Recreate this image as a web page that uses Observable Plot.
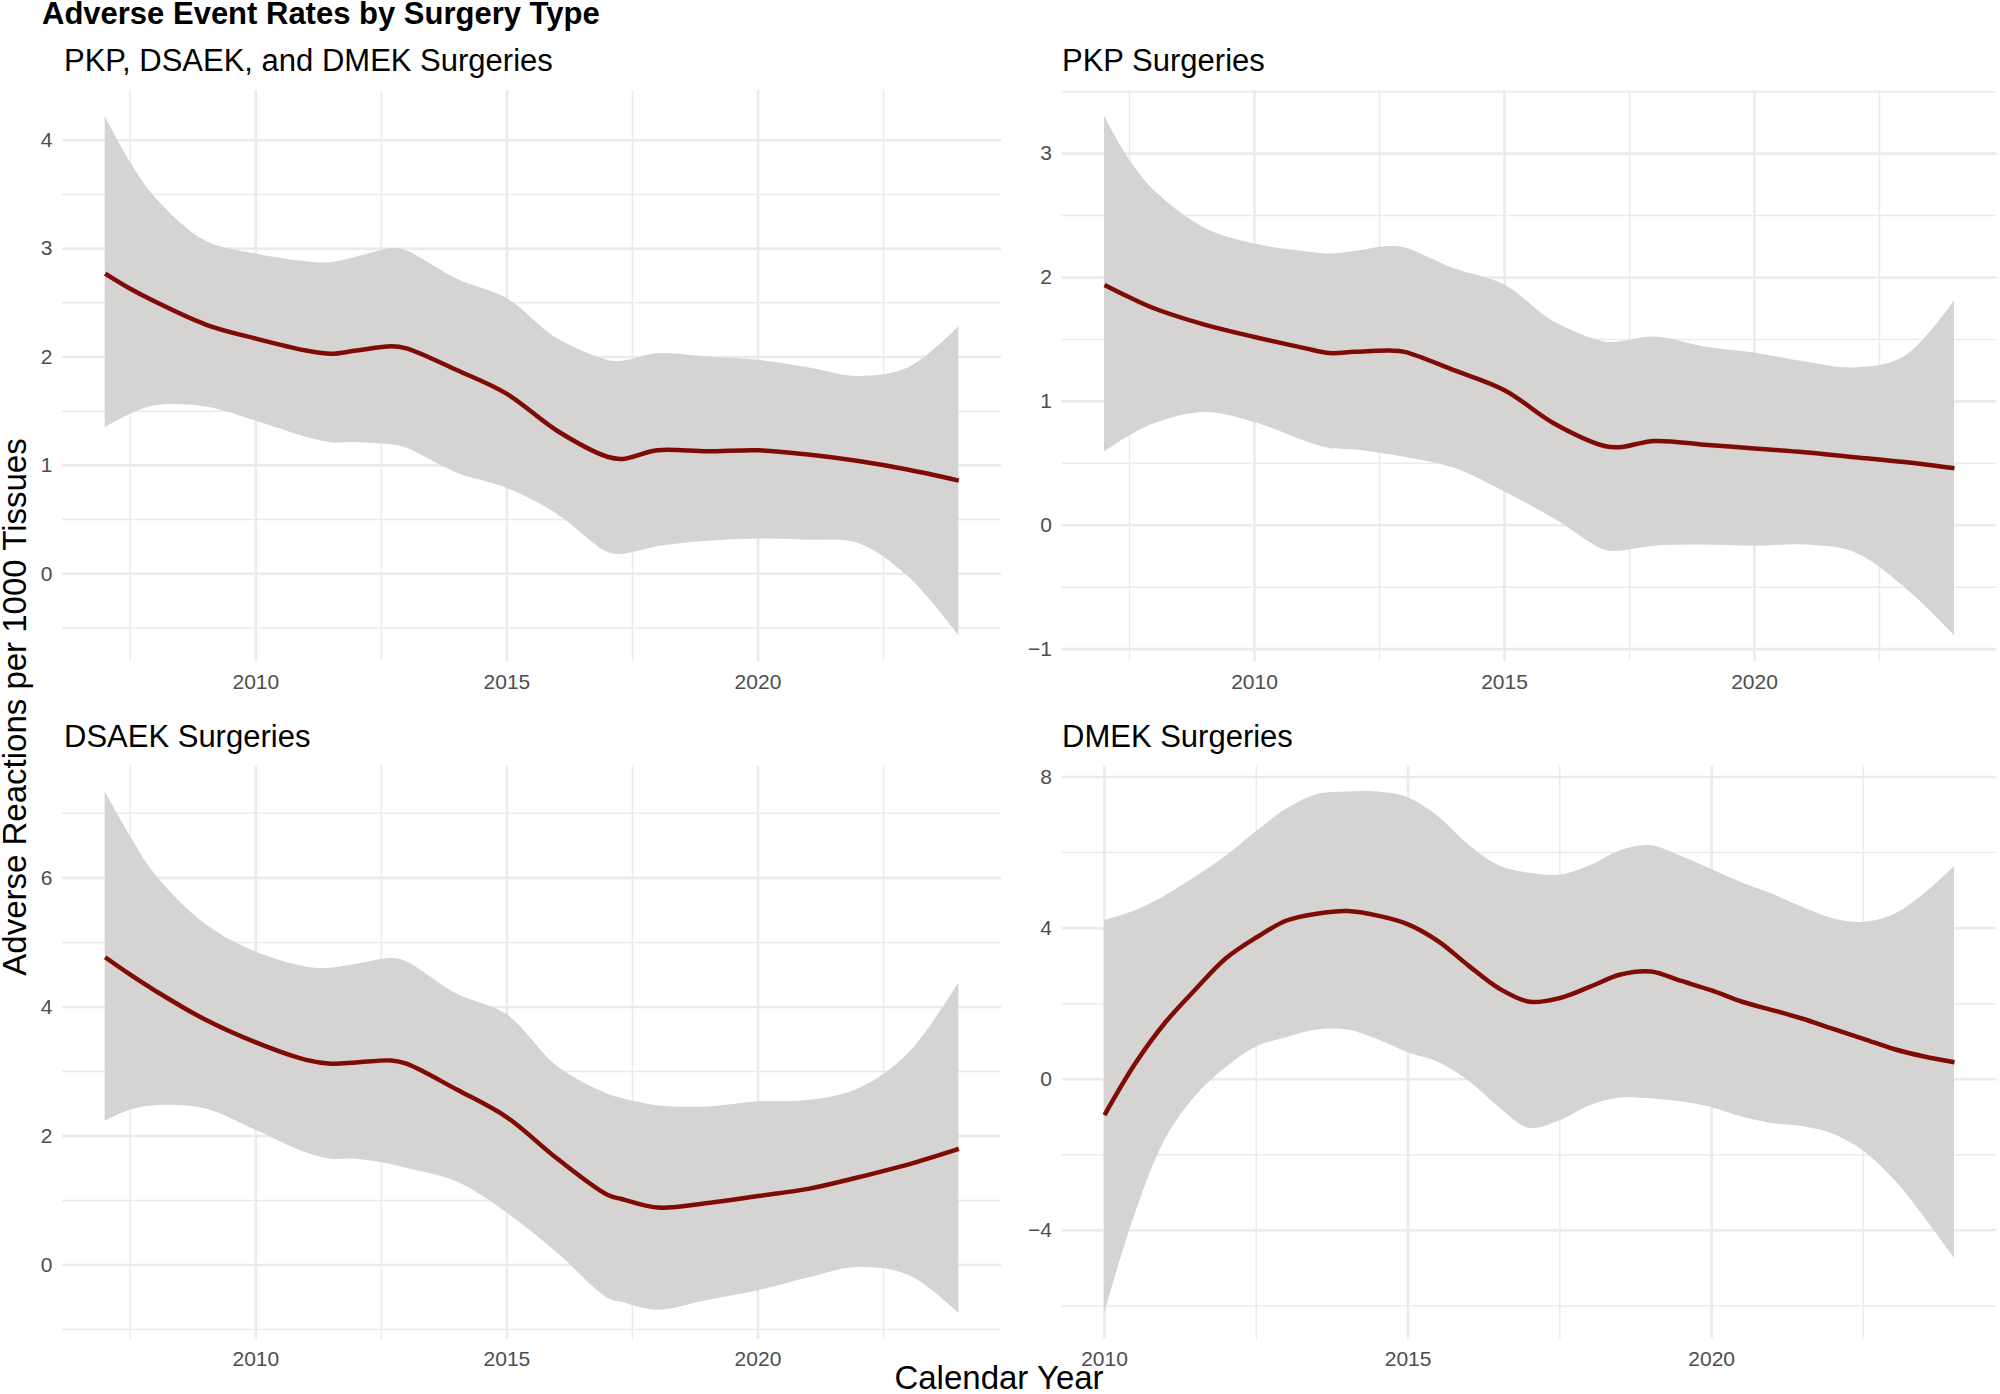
<!DOCTYPE html>
<html>
<head>
<meta charset="utf-8">
<script src="https://cdn.jsdelivr.net/npm/d3@7"></script>
<script src="https://cdn.jsdelivr.net/npm/@observablehq/plot@0.6"></script>
<style>
  body { margin: 0; background: #fff; }
  #page { position: relative; width: 2000px; height: 1394px; overflow: hidden; background: #fff;
          font-family: "Liberation Sans", Arial, sans-serif; }
  .panel { position: absolute; }
  #overlay { position: absolute; left: 0; top: 0; pointer-events: none; }
</style>
</head>
<body>
<div id="page"></div>
<script>
// ---------- Text ----------
const mainTitle = "Adverse Event Rates by Surgery Type";
const panelTitles = ["PKP, DSAEK, and DMEK Surgeries", "PKP Surgeries", "DSAEK Surgeries", "DMEK Surgeries"];
const xAxisTitle = "Calendar Year";
const yAxisTitle = "Adverse Reactions per 1000 Tissues";

// ---------- Tick values ----------
const xMajor = [2010, 2015, 2020];
const xMinor = [2007.5, 2012.5, 2017.5, 2022.5];
const yMajorAll = [0, 1, 2, 3, 4];
const yMinorAll = [-0.5, 0.5, 1.5, 2.5, 3.5];
const yMajorPKP = [-1, 0, 1, 2, 3];
const yMinorPKP = [-0.5, 0.5, 1.5, 2.5, 3.5];
const yMajorDSAEK = [0, 2, 4, 6];
const yMinorDSAEK = [-1, 1, 3, 5, 7];
const yMajorDMEK = [-4, 0, 4, 8];
const yMinorDMEK = [-6, -2, 2, 6];

// ---------- Data ----------
const yearsA = [2007, 2007.5, 2008, 2009, 2010, 2011, 2011.5, 2012, 2012.7, 2013, 2014, 2015, 2016, 2017, 2017.3, 2018, 2019, 2020, 2021, 2022, 2023, 2024];

const allFit = [2.77, 2.63, 2.51, 2.30, 2.17, 2.06, 2.03, 2.06, 2.10, 2.08, 1.88, 1.66, 1.32, 1.08, 1.06, 1.14, 1.13, 1.14, 1.10, 1.04, 0.96, 0.86];
const allHi  = [4.22, 3.80, 3.47, 3.07, 2.95, 2.88, 2.87, 2.92, 3.00, 2.98, 2.72, 2.54, 2.17, 1.97, 1.96, 2.03, 2.00, 1.97, 1.90, 1.82, 1.90, 2.28];
const allLo  = [1.35, 1.47, 1.55, 1.54, 1.41, 1.26, 1.21, 1.21, 1.19, 1.16, 0.93, 0.79, 0.55, 0.20, 0.18, 0.25, 0.30, 0.32, 0.31, 0.28, -0.03, -0.57];

const pkpFit = [1.94, 1.84, 1.75, 1.62, 1.52, 1.43, 1.39, 1.40, 1.41, 1.40, 1.25, 1.09, 0.82, 0.64, 0.63, 0.68, 0.65, 0.62, 0.59, 0.55, 0.51, 0.46];
const pkpHi  = [3.30, 2.95, 2.70, 2.40, 2.27, 2.21, 2.19, 2.21, 2.25, 2.24, 2.07, 1.94, 1.64, 1.48, 1.48, 1.52, 1.44, 1.39, 1.32, 1.27, 1.36, 1.81];
const pkpLo  = [0.59, 0.72, 0.82, 0.91, 0.83, 0.68, 0.62, 0.61, 0.57, 0.55, 0.46, 0.27, 0.05, -0.20, -0.21, -0.17, -0.16, -0.17, -0.16, -0.22, -0.50, -0.89];

const dsaekFit = [4.77, 4.50, 4.25, 3.80, 3.45, 3.18, 3.12, 3.14, 3.17, 3.12, 2.72, 2.29, 1.65, 1.09, 1.02, 0.89, 0.96, 1.07, 1.18, 1.36, 1.56, 1.80];
const dsaekHi  = [7.33, 6.65, 6.05, 5.28, 4.85, 4.62, 4.60, 4.66, 4.75, 4.70, 4.20, 3.88, 3.08, 2.65, 2.58, 2.47, 2.45, 2.53, 2.55, 2.73, 3.28, 4.37];
const dsaekLo  = [2.23, 2.40, 2.47, 2.42, 2.09, 1.74, 1.64, 1.64, 1.56, 1.50, 1.29, 0.81, 0.19, -0.51, -0.58, -0.70, -0.55, -0.40, -0.20, -0.04, -0.16, -0.75];

const yearsD = [2010, 2010.5, 2011, 2011.5, 2012, 2012.5, 2013, 2013.5, 2014, 2014.5, 2015, 2015.5, 2016, 2016.5, 2017, 2017.5,
                2018, 2018.5, 2019, 2019.5, 2020, 2020.5, 2021, 2021.5, 2022, 2022.5, 2023, 2023.5, 2024];
const dmekFit = [-0.95, 0.40, 1.50, 2.38, 3.20, 3.75, 4.20, 4.38, 4.45, 4.33, 4.10, 3.65, 3.00, 2.40, 2.05, 2.15,
                 2.45, 2.77, 2.85, 2.60, 2.35, 2.05, 1.83, 1.60, 1.33, 1.07, 0.80, 0.60, 0.45];
const dmekHi  = [4.20, 4.45, 4.85, 5.35, 5.90, 6.55, 7.15, 7.53, 7.60, 7.60, 7.45, 6.95, 6.20, 5.65, 5.45, 5.40,
                 5.65, 6.05, 6.18, 5.90, 5.55, 5.20, 4.90, 4.55, 4.25, 4.15, 4.35, 4.90, 5.62];
const dmekLo  = [-6.20, -3.60, -1.60, -0.45, 0.30, 0.85, 1.10, 1.30, 1.30, 1.05, 0.70, 0.45, -0.05, -0.75, -1.30, -1.10,
                 -0.70, -0.50, -0.52, -0.60, -0.75, -1.00, -1.17, -1.25, -1.45, -1.90, -2.65, -3.65, -4.75];

// ---------- Style ----------
const FONT = '"Liberation Sans", Arial, sans-serif';
const bandFill = "#d6d3d3";
const lineColor = "#7f0c04";
const gridColor = "#ebebeb";
const tickColor = "#4d4d4d";

function expand(lo, hi) { const r = hi - lo; return [lo - 0.05 * r, hi + 0.05 * r]; }
const fmtY = d => (d < 0 ? "\u2212" + Math.abs(d) : String(d));

function makePanel(cfg) {
  const rows = cfg.x.map((x, i) => ({ x, fit: cfg.fit[i], lo: cfg.lo[i], hi: cfg.hi[i] }));
  const xDomain = expand(d3.min(cfg.x), d3.max(cfg.x));
  const yDomain = expand(d3.min(cfg.lo), d3.max(cfg.hi));
  const xMin = xMinor.filter(v => v > xDomain[0] && v < xDomain[1]);
  const yMin = cfg.yMinor.filter(v => v > yDomain[0] && v < yDomain[1]);
  const chart = Plot.plot({
    width: cfg.width, height: cfg.height,
    marginLeft: cfg.ml, marginRight: cfg.mr, marginTop: cfg.mt, marginBottom: cfg.mb,
    style: { fontFamily: FONT, fontSize: "21px", background: "transparent", overflow: "visible" },
    x: { domain: xDomain, axis: null, label: null },
    y: { domain: yDomain, axis: null, label: null },
    marks: [
      Plot.gridY({ ticks: yMin, stroke: gridColor, strokeOpacity: 1, strokeWidth: 1.5 }),
      Plot.gridX({ ticks: xMin, stroke: gridColor, strokeOpacity: 1, strokeWidth: 1.5 }),
      Plot.gridY({ ticks: cfg.yMajor, stroke: gridColor, strokeOpacity: 1, strokeWidth: 2.6 }),
      Plot.gridX({ ticks: xMajor, stroke: gridColor, strokeOpacity: 1, strokeWidth: 2.6 }),
      Plot.areaY(rows, { x: "x", y1: "lo", y2: "hi", fill: bandFill, curve: "catmull-rom" }),
      Plot.lineY(rows, { x: "x", y: "fit", stroke: lineColor, strokeWidth: 4.5, strokeLinecap: "butt", curve: "catmull-rom" }),
      Plot.axisX({ ticks: xMajor, tickSize: 0, tickPadding: cfg.xpad, tickFormat: d => String(d), fill: tickColor, fontSize: 21, label: null }),
      Plot.axisY({ ticks: cfg.yMajor, tickSize: 0, tickPadding: 10, tickFormat: fmtY, fill: tickColor, fontSize: 21, label: null })
    ]
  });
  chart.classList.add("panel");
  chart.style.left = cfg.left + "px";
  chart.style.top = cfg.top + "px";
  return chart;
}

const page = document.getElementById("page");

page.appendChild(makePanel({ x: yearsA, fit: allFit, lo: allLo, hi: allHi, yMajor: yMajorAll, yMinor: yMinorAll,
  left: 0, top: 80, width: 1001, height: 620, ml: 62, mr: 0, mt: 10, mb: 39, xpad: 13 }));
page.appendChild(makePanel({ x: yearsA, fit: pkpFit, lo: pkpLo, hi: pkpHi, yMajor: yMajorPKP, yMinor: yMinorPKP,
  left: 1000, top: 80, width: 1000, height: 620, ml: 61.5, mr: 3.5, mt: 10, mb: 39, xpad: 13 }));
page.appendChild(makePanel({ x: yearsA, fit: dsaekFit, lo: dsaekLo, hi: dsaekHi, yMajor: yMajorDSAEK, yMinor: yMinorDSAEK,
  left: 0, top: 755, width: 1001, height: 639, ml: 62, mr: 0, mt: 10.5, mb: 55, xpad: 12 }));
page.appendChild(makePanel({ x: yearsD, fit: dmekFit, lo: dmekLo, hi: dmekHi, yMajor: yMajorDMEK, yMinor: yMinorDMEK,
  left: 1000, top: 755, width: 1000, height: 639, ml: 61.5, mr: 3.5, mt: 10.5, mb: 55, xpad: 12 }));

// ---------- Titles overlay ----------
const svg = d3.select(page).append("svg")
  .attr("id", "overlay").attr("width", 2000).attr("height", 1394)
  .style("font-family", FONT);

svg.append("text").attr("x", 42).attr("y", 24).attr("font-size", 31).attr("font-weight", "bold")
  .attr("fill", "#000").text(mainTitle);

const titlePos = [[64, 71], [1062, 71], [64, 747], [1062, 747]];
panelTitles.forEach((t, i) => {
  svg.append("text").attr("x", titlePos[i][0]).attr("y", titlePos[i][1]).attr("font-size", 31)
    .attr("fill", "#000").text(t);
});

svg.append("text").attr("x", 999).attr("y", 1389).attr("font-size", 33).attr("text-anchor", "middle")
  .attr("fill", "#000").text(xAxisTitle);

svg.append("text").attr("transform", "translate(26,707) rotate(-90)").attr("font-size", 33)
  .attr("text-anchor", "middle").attr("fill", "#000").text(yAxisTitle);
</script>
</body>
</html>
